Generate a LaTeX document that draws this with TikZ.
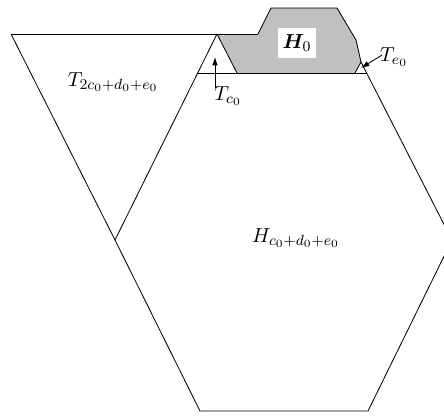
\documentclass[tikz,border=0pt]{standalone}
\usepackage{bm}
\usetikzlibrary{arrows.meta}
\begin{document}
\begin{tikzpicture}[x=0.54pt,y=-0.54pt,line join=round,
  font=\fontsize{10.95}{13}\selectfont,
  ln/.style={draw=black,line width=0.45pt},
  shade0/.style={fill={rgb,255:red,192;green,192;blue,192}},
  lbl/.style={inner sep=1pt},
  ptr/.style={-{Latex[length=4.5pt,width=3pt]},line width=0.45pt}]
\useasboundingbox (0,0) rectangle (444,415);
\clip (0,0) rectangle (444,415);
% corner points
\coordinate (tl) at (11,34);
\coordinate (ta) at (217,34);
\coordinate (st) at (258,34);
\coordinate (g1) at (271,8);
\coordinate (g2) at (337,8);
\coordinate (g3) at (356,40);
\coordinate (ea) at (361,62);
\coordinate (el) at (355,73);
\coordinate (cr) at (237,73);
\coordinate (hl) at (115,240);
\coordinate (htl) at (198,73);
\coordinate (htr) at (367,73);
\coordinate (hbl) at (200,411);
\coordinate (hbr) at (368,411);
\coordinate (hr) at (452,240);
% gray region H0
\path[shade0] (ta) -- (st) -- (g1) -- (g2) -- (g3) -- (ea) -- (el) -- (cr) -- cycle;
% big triangle
\draw[ln] (tl) -- (st);
\draw[ln] (tl) -- (hl) -- (ta) -- (cr);
% H0 outline
\draw[ln] (st) -- (g1) -- (g2) -- (g3) -- (ea) -- (el);
% hexagon
\draw[ln] (htl) -- (htr);
\draw[ln] (hl) -- (hbl) -- (hbr) -- (hr) -- (ea);
% labels
\node[fill=white,inner xsep=2.6pt,inner ysep=3.3pt] (hzero) at (297,43) {$\bm{H}_0$};
\node[lbl] (t2) at (113,82) {$T_{2c_0+d_0+e_0}$};
\node[lbl] (hc) at (296,238) {$H_{c_0+d_0+e_0}$};
\node[lbl] (tc) at (228,96) {$T_{c_0}$};
\node[lbl] (te) at (394,57) {$T_{e_0}$};
\coordinate (tcs) at (215,88);
\coordinate (tct) at (215,57);
\coordinate (tes) at (382,55);
\coordinate (tet) at (361,68);
\draw[ptr] (tcs) -- (tct);
\draw[ptr] (tes) -- (tet);
\end{tikzpicture}
\end{document}
